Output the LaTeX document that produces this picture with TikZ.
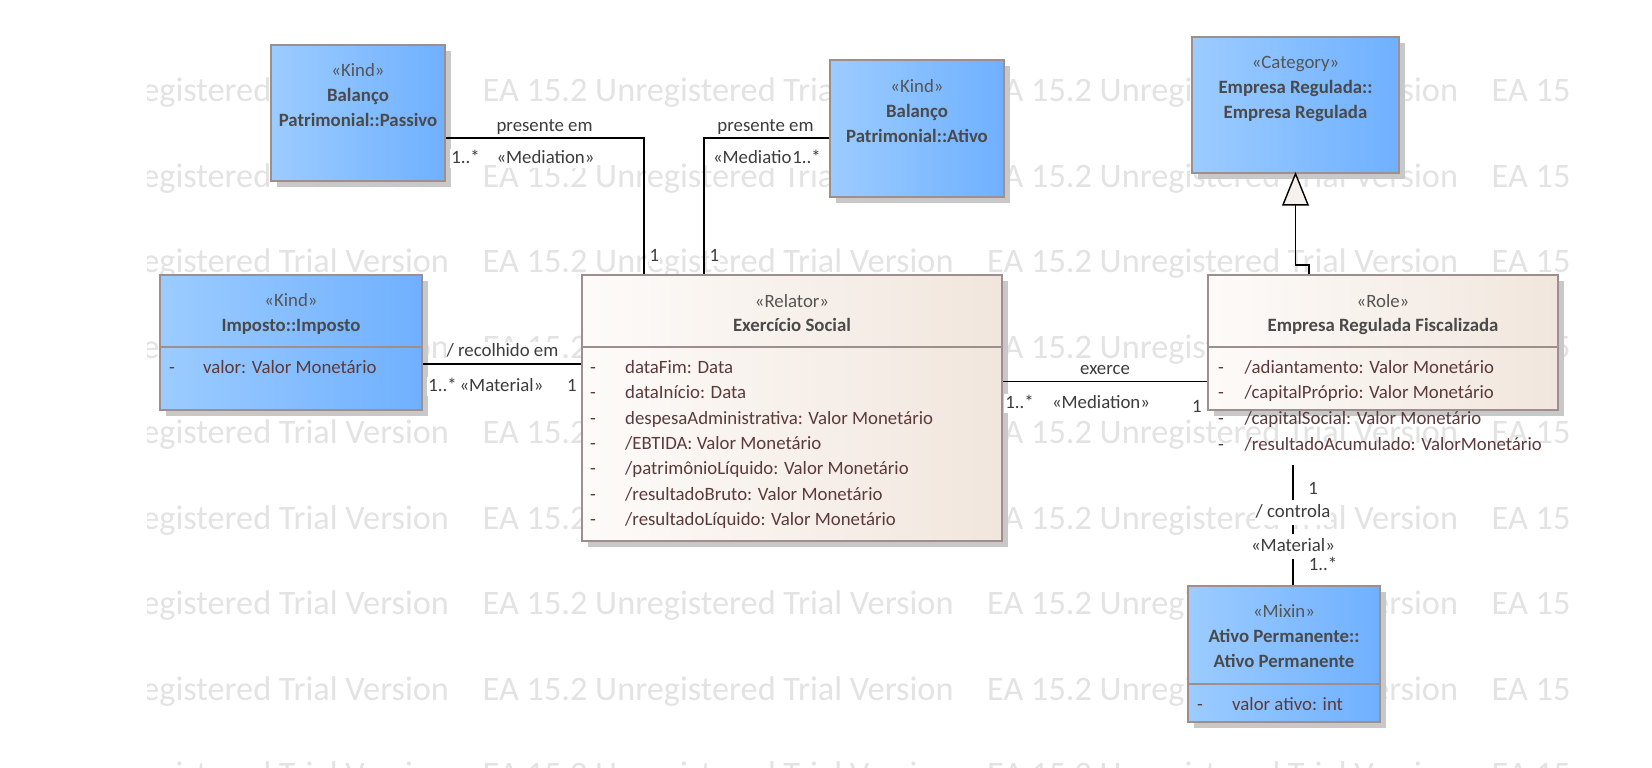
\documentclass[tikz,border=0pt]{standalone}
\usepackage{fontspec}
\setmainfont{Carlito}
\usetikzlibrary{shadows}
\definecolor{blueL}{HTML}{9CCCFF}
\definecolor{blueR}{HTML}{6FB0FF}
\definecolor{beigeL}{HTML}{FDFBF9}
\definecolor{beigeR}{HTML}{F1E6DD}
\definecolor{bordc}{HTML}{9E8E8E}
\definecolor{namec}{HTML}{4A4A4A}
\definecolor{sterc}{HTML}{555555}
\definecolor{attrc}{HTML}{5C3A3A}
\definecolor{lblc}{HTML}{3C3C3C}
\definecolor{wmc}{HTML}{E3E3E3}
\definecolor{shadc}{HTML}{C8C8C8}
\definecolor{trifill}{HTML}{F7F1ED}
\newcommand{\umlfs}{\fontsize{18.8}{22}\selectfont}
\begin{document}
\begin{tikzpicture}[x=1pt,y=-1pt,
  umlbox/.style={draw=bordc, line width=1.6pt, rectangle, inner sep=0pt,
    drop shadow={shadow xshift=6pt, shadow yshift=-6pt, fill=shadc, opacity=1}},
  bluefill/.style={left color=blueL, right color=blueR},
  beigefill/.style={left color=beigeL, right color=beigeR},
  ster/.style={font=\umlfs, text=sterc, inner sep=0pt, text height=14pt, text depth=3pt},
  cname/.style={font=\umlfs\bfseries, text=namec, inner sep=0pt, text height=14pt, text depth=3pt},
  attr/.style={font=\umlfs, text=attrc, inner sep=0pt, text height=14pt, text depth=3pt, anchor=west},
  lbl/.style={font=\umlfs, text=lblc, fill=white, inner sep=1pt, text height=14pt, text depth=3pt},
  conn/.style={draw=black, line width=1.8pt},
  divider/.style={draw=bordc, line width=1.6pt},
  wm/.style={font=\fontsize{34.3}{40}\selectfont, text=wmc, anchor=base west, inner sep=0pt}
]
\useasboundingbox (0,0) rectangle (1652,768);
\fill[white] (0,0) rectangle (1652,768);

% watermark
\begin{scope}
\clip (147,25) rectangle (1570,768);
\foreach \r in {0,...,8} {
  \foreach \c [count=\ci] in {-22,482.5,987,1491.5} {
    \node[wm] (wm-\r-\ci) at (\c, {102+85.46*\r}) {EA 15.2 Unregistered Trial Version};
  }
}
\end{scope}

% boxes
\node[umlbox,bluefill,minimum width=174pt,minimum height=136pt] (passivo) at (358,113) {};
\node[umlbox,bluefill,minimum width=174pt,minimum height=137pt] (ativo) at (917,128.5) {};
\node[umlbox,bluefill,minimum width=207pt,minimum height=136pt] (category) at (1295.5,105) {};
\node[umlbox,bluefill,minimum width=262pt,minimum height=135pt] (imposto) at (291,342.5) {};
\node[umlbox,beigefill,minimum width=420pt,minimum height=266pt] (relator) at (792,408) {};
\node[umlbox,beigefill,minimum width=350pt,minimum height=135pt] (role) at (1383,342.5) {};
\node[umlbox,bluefill,minimum width=192pt,minimum height=136pt] (mixin) at (1284,654) {};

% dividers
\draw[divider] (imposto.west |- 0,347) -- (imposto.east |- 0,347);
\draw[divider] (relator.west |- 0,347) -- (relator.east |- 0,347);
\draw[divider] (role.west |- 0,347) -- (role.east |- 0,347);
\draw[divider] (mixin.west |- 0,684) -- (mixin.east |- 0,684);

% box texts
\node[ster] (t-passivo-s) at (358,71) {«Kind»};
\node[cname] (t-passivo-n1) at (358,96) {Balanço};
\node[cname] (t-passivo-n2) at (358,121) {Patrimonial::Passivo};

\node[ster] (t-ativo-s) at (917,87) {«Kind»};
\node[cname] (t-ativo-n1) at (917,112) {Balanço};
\node[cname] (t-ativo-n2) at (917,137) {Patrimonial::Ativo};

\node[ster] (t-cat-s) at (1295.5,63) {«Category»};
\node[cname] (t-cat-n1) at (1295.5,88) {Empresa Regulada::};
\node[cname] (t-cat-n2) at (1295.5,113) {Empresa Regulada};

\node[ster] (t-imp-s) at (291,301) {«Kind»};
\node[cname] (t-imp-n) at (291,326) {Imposto::Imposto};
\node[attr] (t-imp-d1) at (169,368) {-};
\node[attr] (t-imp-a1) at (203,368) {valor: Valor Monetário};

\node[ster] (t-rel-s) at (792,302) {«Relator»};
\node[cname] (t-rel-n) at (792,326) {Exercício Social};
\foreach \yy/\tt [count=\k] in {368.3/{dataFim: Data},393.3/{dataInício: Data},419/{despesaAdministrativa: Valor Monetário},444.3/{/EBTIDA: Valor Monetário},469.3/{/patrimônioLíquido: Valor Monetário},495/{/resultadoBruto: Valor Monetário},520/{/resultadoLíquido: Valor Monetário}} {
  \node[attr] (t-rel-d\k) at (590,\yy) {-};
  \node[attr] (t-rel-a\k) at (625,\yy) {\tt};
}

\node[ster] (t-role-s) at (1383,302) {«Role»};
\node[cname] (t-role-n) at (1383,326) {Empresa Regulada Fiscalizada};
\foreach \yy/\tt [count=\k] in {368.3/{/adiantamento: Valor Monetário},393.3/{/capitalPróprio: Valor Monetário},419/{/capitalSocial: Valor Monetário},445/{/resultadoAcumulado: ValorMonetário}} {
  \node[attr] (t-role-d\k) at (1218,\yy) {-};
  \node[attr] (t-role-a\k) at (1244.5,\yy) {\tt};
}

\node[ster] (t-mix-s) at (1284,612) {«Mixin»};
\node[cname] (t-mix-n1) at (1284,637) {Ativo Permanente::};
\node[cname] (t-mix-n2) at (1284,662) {Ativo Permanente};
\node[attr] (t-mix-d1) at (1197,705) {-};
\node[attr] (t-mix-a1) at (1232,705) {valor ativo: int};

% connectors
\draw[conn] (passivo.east |- 0,138) -| (643.6,0 |- relator.north);
\draw[conn] (703.6,0 |- relator.north) |- (ativo.west |- 0,138);
\draw[conn] (imposto.east |- 0,364) -- (relator.west |- 0,364);
\draw[conn] (relator.east |- 0,381.5) -- (role.west |- 0,381.5);
\draw[conn, line width=1.6pt] (1309,0 |- role.north) -- (1309,265) -- (1295.5,265) -- ([yshift=-31pt]category.south);
\draw[line width=1.4pt, fill=trifill] (category.south) -- ++(-12.5,31) -- ++(25,0) -- cycle;
\coordinate (roleend) at (1293,465);
\draw[conn] (roleend) -- (roleend |- mixin.north);

% connector labels
\node[lbl] (l1) at (544.6,126) {presente em};
\node[lbl] (l2) at (545.5,158) {«Mediation»};
\node[lbl] (l3) at (465.5,158) {1..*};
\node[lbl] (l4) at (654.5,256) {1};
\node[lbl] (l5) at (714.5,256) {1};
\node[lbl] (l6) at (765.5,126) {presente em};
\node[lbl] (l7) at (762,158) {«Mediation»};
\node[lbl] (l8) at (806.5,158) {1..*};
\node[lbl] (l9) at (502.5,351) {/ recolhido em};
\node[lbl] (l10) at (442.5,386) {1..*};
\node[lbl] (l11) at (501.5,386) {«Material»};
\node[lbl] (l12) at (572,386) {1};
\node[lbl] (l13) at (1105,369) {exerce};
\node[lbl] (l14) at (1019.5,403) {1..*};
\node[lbl] (l15) at (1101,403) {«Mediation»};
\node[lbl] (l16) at (1197,407) {1};
\node[lbl] (l17) at (1313,489) {1};
\node[lbl, inner ysep=4pt] (l18) at (1293,512) {/ controla};
\node[lbl, inner ysep=4pt] (l19) at (1293,546) {«Material»};
\node[lbl] (l20) at (1323,565) {1..*};
\end{tikzpicture}
\end{document}
